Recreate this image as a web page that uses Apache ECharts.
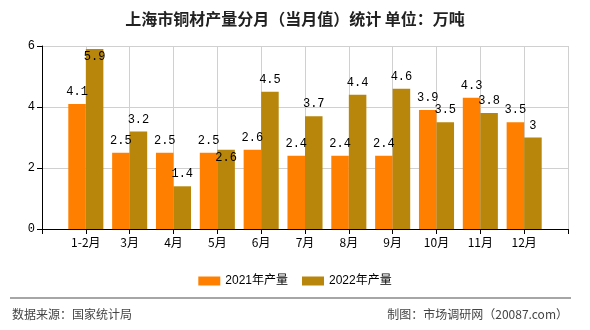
<!DOCTYPE html>
<html>
<head>
<meta charset="utf-8">
<script src="https://cdn.jsdelivr.net/npm/echarts@6/dist/echarts.min.js"></script>
<style>html,body{margin:0;padding:0;background:#fff}#c{width:590px;height:330px}</style>
</head>
<body>
<div id="c"></div>
<script>
const categories = ['1-2月','3月','4月','5月','6月','7月','8月','9月','10月','11月','12月'];
const values2021 = [4.1, 2.5, 2.5, 2.5, 2.6, 2.4, 2.4, 2.4, 3.9, 4.3, 3.5];
const values2022 = [5.9, 3.2, 1.4, 2.6, 4.5, 3.7, 4.4, 4.6, 3.5, 3.8, 3.0];
const seriesNames = ['2021年产量', '2022年产量'];
const yTicks = [0, 2, 4, 6];

// labels drawn inside the bar top in the reference
const insideLabels2022 = ['1-2月', '5月'];

const paddedCats = [''].concat(categories, ['']);
function pad(arr, insideCats) {
  const out = ['-'];
  arr.forEach((v, i) => {
    if (insideCats && insideCats.indexOf(categories[i]) >= 0) {
      out.push({ value: v, label: { position: 'insideTop', distance: 2 } });
    } else out.push(v);
  });
  out.push('-');
  return out;
}

const labelStyle = {
  show: true, position: 'top', distance: 6, color: '#000',
  fontFamily: 'Liberation Mono, DejaVu Sans Mono, monospace', fontSize: 12
};

const chart = echarts.init(document.getElementById('c'), null, { renderer: 'canvas' });
chart.setOption({
  animation: false,
  backgroundColor: '#fff',
  title: {
    text: '上海市铜材产量分月（当月值）统计 单位：万吨',
    left: 'center', top: 6,
    textStyle: { fontSize: 16, fontWeight: 'bold', color: '#222', fontFamily: 'Noto Sans CJK SC' }
  },
  legend: {
    data: seriesNames,
    top: 270, left: 'center',
    itemWidth: 22, itemHeight: 9, itemGap: 14,
    icon: 'rect',
    textStyle: { fontSize: 12, color: '#000', fontFamily: 'Liberation Sans, Noto Sans CJK SC' }
  },
  grid: { left: 42, right: 22, top: 46, bottom: 101, containLabel: false },
  xAxis: {
    type: 'category',
    data: paddedCats,
    boundaryGap: false,
    axisLine: { lineStyle: { color: '#000', width: 1 } },
    axisTick: { show: true, length: 5, lineStyle: { color: '#000' } },
    axisLabel: { color: '#000', fontSize: 12, margin: 7, interval: 0, fontFamily: 'Noto Sans CJK SC' },
    splitLine: { show: true, lineStyle: { color: '#d0d0d0', width: 1 } }
  },
  yAxis: {
    type: 'value',
    min: yTicks[0], max: yTicks[yTicks.length - 1], interval: 2,
    axisLine: { show: true, lineStyle: { color: '#000', width: 1 } },
    axisTick: { show: true, length: 5, lineStyle: { color: '#000' } },
    axisLabel: { color: '#000', fontSize: 12, margin: 7, fontFamily: 'Liberation Mono, DejaVu Sans Mono' },
    splitLine: { show: true, lineStyle: { color: '#d0d0d0', width: 1 } }
  },
  series: [
    {
      name: seriesNames[0], type: 'bar', data: pad(values2021),
      itemStyle: { color: '#FF8000' }, barGap: '0%', barCategoryGap: '20%',
      label: labelStyle
    },
    {
      name: seriesNames[1], type: 'bar', data: pad(values2022, insideLabels2022),
      itemStyle: { color: '#B8860B' }, barGap: '0%', barCategoryGap: '20%',
      label: labelStyle
    }
  ],
  graphic: [
    { type: 'line', shape: { x1: 10, y1: 298, x2: 571, y2: 298 }, style: { stroke: '#888', lineWidth: 1.5 } },
    { type: 'text', left: 12, top: 308, style: { text: '数据来源：国家统计局', fontSize: 12, fill: '#444', fontFamily: 'Noto Sans CJK SC' } },
    { type: 'text', right: 22, top: 308, style: { text: '制图：市场调研网（20087.com）', fontSize: 12, fill: '#444', fontFamily: 'Noto Sans CJK SC' } }
  ]
});
</script>
</body>
</html>
